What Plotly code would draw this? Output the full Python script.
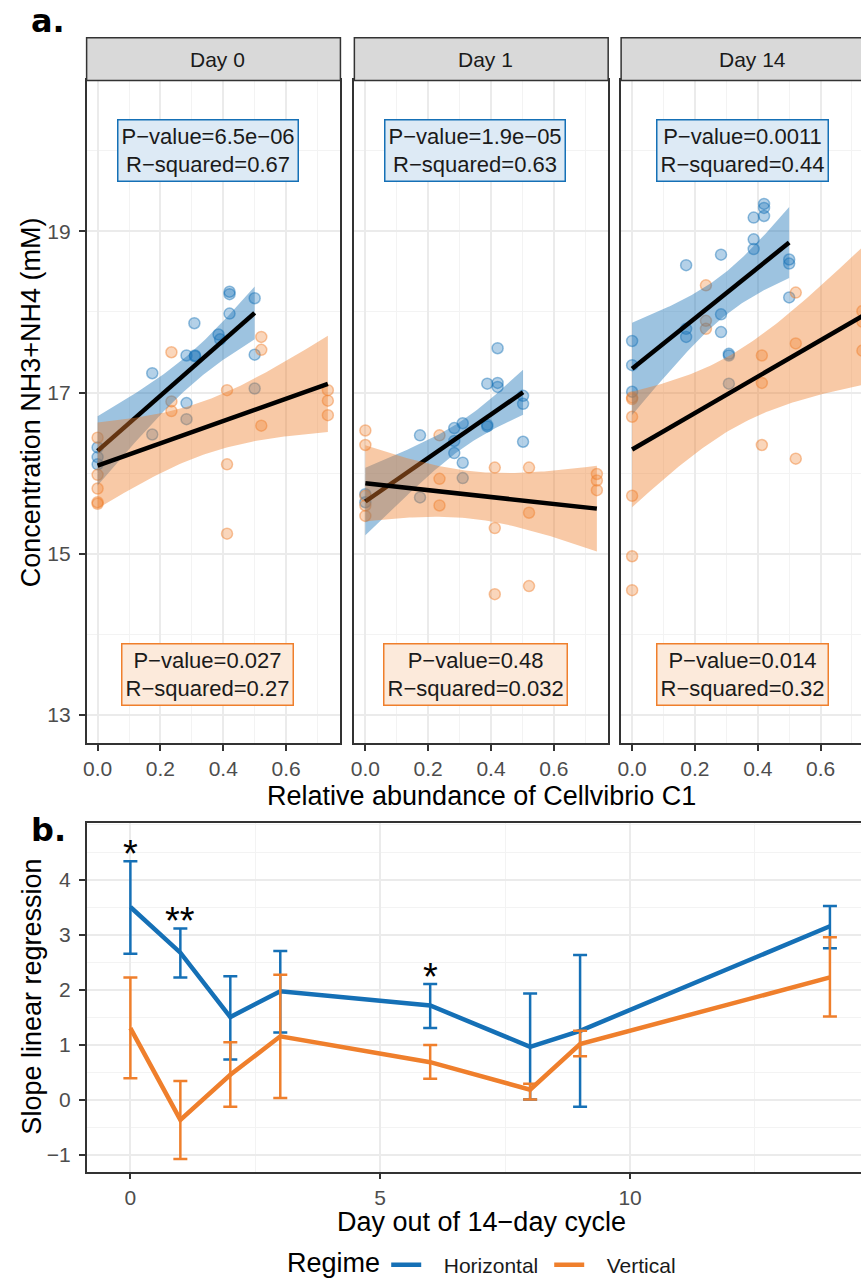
import numpy as np
import plotly.graph_objects as go

W, H = 861, 1286
BLUE = "#1570B6"
ORANGE = "#EF7F2C"
FONT = "Liberation Sans, Arial, sans-serif"

# ---------------- Panel a data ----------------
facet_days = ["Day 0", "Day 1", "Day 14"]

day0_h_x = [0.0, 0.0, 0.0, 0.174, 0.174, 0.283, 0.283, 0.283, 0.31, 0.31, 0.308, 0.385, 0.39, 0.42, 0.42, 0.42, 0.5, 0.5, 0.5]
day0_h_y = [16.32, 16.20, 16.11, 17.24, 16.48, 17.46, 16.87, 16.67, 17.46, 17.45, 17.86, 17.72, 17.66, 17.98, 18.22, 18.25, 18.17, 17.47, 17.05]
day0_v_x = [0.0, 0.0, 0.0, 0.0, 0.0, 0.235, 0.235, 0.235, 0.412, 0.412, 0.412, 0.521, 0.521, 0.521, 0.733, 0.733, 0.733]
day0_v_y = [16.44, 15.98, 15.81, 15.64, 15.62, 17.50, 16.89, 16.77, 17.03, 16.11, 15.25, 17.69, 17.53, 16.59, 17.03, 16.90, 16.72]

day1_h_x = [0.0, 0.0, 0.174, 0.174, 0.283, 0.283, 0.283, 0.31, 0.31, 0.31, 0.388, 0.388, 0.388, 0.421, 0.421, 0.421, 0.502, 0.502, 0.502]
day1_h_y = [15.74, 15.64, 16.47, 15.70, 16.56, 16.40, 16.25, 16.62, 16.13, 15.94, 17.11, 16.60, 16.58, 17.55, 17.12, 17.07, 16.96, 16.86, 16.39]
day1_v_x = [0.0, 0.0, 0.0, 0.0, 0.0, 0.236, 0.236, 0.236, 0.412, 0.412, 0.412, 0.521, 0.521, 0.521, 0.737, 0.737, 0.737]
day1_v_y = [16.53, 16.35, 15.72, 15.60, 15.47, 16.47, 15.93, 15.60, 16.07, 15.32, 14.50, 16.07, 15.51, 14.60, 15.99, 15.91, 15.79]

day14_h_x = [0.0, 0.0, 0.0, 0.172, 0.172, 0.172, 0.283, 0.283, 0.283, 0.308, 0.308, 0.308, 0.387, 0.387, 0.387, 0.42, 0.42, 0.42, 0.5, 0.5, 0.5]
day14_h_y = [17.64, 17.34, 17.01, 18.58, 17.79, 17.69, 18.71, 17.97, 17.75, 17.48, 17.46, 17.11, 19.17, 18.90, 18.78, 19.34, 19.29, 19.19, 18.65, 18.60, 18.18]
day14_v_x = [0.0, 0.0, 0.0, 0.0, 0.0, 0.0, 0.235, 0.235, 0.235, 0.413, 0.413, 0.413, 0.521, 0.521, 0.521, 0.733, 0.733, 0.733]
day14_v_y = [16.94, 16.92, 16.70, 15.72, 14.97, 14.55, 18.33, 17.89, 17.79, 17.46, 17.12, 16.35, 18.24, 17.61, 16.18, 18.01, 17.88, 17.52]

h_pvalue = ["6.5e−06", "1.9e−05", "0.0011"]
h_rsquared = ["0.67", "0.63", "0.44"]
v_pvalue = ["0.027", "0.48", "0.014"]
v_rsquared = ["0.27", "0.032", "0.32"]

# ---------------- Panel b data ----------------
regimes = ["Horizontal", "Vertical"]
slope_days = [0, 1, 2, 3, 6, 8, 9, 14]
h_slope = [3.50, 2.67, 1.50, 1.97, 1.71, 0.96, 1.25, 3.15]
h_upper = [4.33, 3.11, 2.24, 2.70, 2.10, 1.93, 2.63, 3.52]
h_lower = [2.65, 2.22, 0.73, 1.22, 1.30, 0.00, -0.13, 2.75]
v_slope = [1.30, -0.37, 0.45, 1.15, 0.68, 0.18, 1.01, 2.22]
v_upper = [2.22, 0.34, 1.04, 2.27, 0.99, 0.29, 1.25, 2.95]
v_lower = [0.39, -1.08, -0.13, 0.03, 0.38, 0.00, 0.79, 1.51]
significance = ["*", "**", "", "", "*", "", "", ""]


def rgba(hexc, a):
    hexc = hexc.lstrip("#")
    r, g, b = int(hexc[0:2], 16), int(hexc[2:4], 16), int(hexc[4:6], 16)
    return f"rgba({r},{g},{b},{a})"


def t_quantile(df, z=1.959963985):
    g1 = (z**3 + z) / 4
    g2 = (5 * z**5 + 16 * z**3 + 3 * z) / 96
    g3 = (3 * z**7 + 19 * z**5 + 17 * z**3 - 15 * z) / 384
    g4 = (79 * z**9 + 776 * z**7 + 1482 * z**5 - 1920 * z**3 - 945 * z) / 92160
    return z + g1 / df + g2 / df**2 + g3 / df**3 + g4 / df**4


def lm_band(x, y):
    x = np.asarray(x, float)
    y = np.asarray(y, float)
    n = len(x)
    xm, ym = x.mean(), y.mean()
    sxx = ((x - xm) ** 2).sum()
    b = ((x - xm) * (y - ym)).sum() / sxx
    a = ym - b * xm
    s = np.sqrt(((y - (a + b * x)) ** 2).sum() / (n - 2))
    xs = np.linspace(x.min(), x.max(), 80)
    fit = a + b * xs
    se = s * np.sqrt(1.0 / n + (xs - xm) ** 2 / sxx)
    t = t_quantile(n - 2)
    return xs, fit, fit - t * se, fit + t * se


fig = go.Figure()

panels = [
    (day0_h_x, day0_h_y, day0_v_x, day0_v_y),
    (day1_h_x, day1_h_y, day1_v_x, day1_v_y),
    (day14_h_x, day14_h_y, day14_v_x, day14_v_y),
]

for i, (hx, hy, vx, vy) in enumerate(panels):
    xa = "x" if i == 0 else f"x{i+1}"
    ya = "y" if i == 0 else f"y{i+1}"
    for px_, py_, col in [(hx, hy, BLUE), (vx, vy, ORANGE)]:
        fig.add_trace(go.Scatter(
            x=px_, y=py_, mode="markers", xaxis=xa, yaxis=ya, showlegend=False,
            marker=dict(size=11, color=rgba(col, 0.32), line=dict(color=rgba(col, 0.45), width=1.5)),
            hoverinfo="skip"))
    for px_, py_, col in [(hx, hy, BLUE), (vx, vy, ORANGE)]:
        xs, fit, lo, hi = lm_band(px_, py_)
        fig.add_trace(go.Scatter(
            x=np.concatenate([xs, xs[::-1]]), y=np.concatenate([hi, lo[::-1]]),
            mode="lines", fill="toself", fillcolor=rgba(col, 0.42), line=dict(width=0),
            xaxis=xa, yaxis=ya, showlegend=False, hoverinfo="skip"))
        fig.add_trace(go.Scatter(
            x=xs, y=fit, mode="lines", line=dict(color="black", width=4.5),
            xaxis=xa, yaxis=ya, showlegend=False, hoverinfo="skip"))

# Panel b
NBSP3 = "\u00a0\u00a0\u00a0"
for name, yv, up, lo, col in [(regimes[0], h_slope, h_upper, h_lower, BLUE),
                              (regimes[1], v_slope, v_upper, v_lower, ORANGE)]:
    yv_a = np.array(yv)
    fig.add_trace(go.Scatter(
        x=slope_days, y=yv, mode="lines", name=NBSP3 + name, xaxis="x4", yaxis="y4",
        line=dict(color=col, width=4.5),
        error_y=dict(type="data", symmetric=False,
                     array=list(np.array(up) - yv_a), arrayminus=list(yv_a - np.array(lo)),
                     color=col, thickness=2.5, width=7)))

# ---------------- layout ----------------
def xp(p):
    return p / W


def yp(p):
    return 1 - p / H


grid_major = "#EBEBEB"
grid_minor = "#F3F3F3"
axis_common = dict(
    showgrid=True, gridcolor=grid_major, gridwidth=1.6, zeroline=False,
    showline=True, linecolor="#333333", linewidth=1.5,
    ticks="outside", ticklen=6, tickwidth=1.5, tickcolor="#333333",
    tickfont=dict(family=FONT, size=21, color="#4D4D4D"),
)

PANEL_TOP, PANEL_BOT = 81, 748
a_yrange = [12.65, 20.87]
a_xrange = [-0.035, 0.773]

layout_axes = {}
dom = [(83, 338), (352, 607), (620, 861)]
for i in range(3):
    xk = "xaxis" if i == 0 else f"xaxis{i+1}"
    yk = "yaxis" if i == 0 else f"yaxis{i+1}"
    xr = a_xrange if i < 2 else [-0.035, -0.035 + (861 - 620) / (255 / (a_xrange[1] - a_xrange[0]))]
    layout_axes[xk] = dict(axis_common, domain=[xp(dom[i][0]), xp(dom[i][1])], range=xr,
                           tickvals=[0, 0.2, 0.4, 0.6], tickformat=".1f", mirror=True,
                           anchor="y" if i == 0 else f"y{i+1}",
                           minor=dict(tick0=0, dtick=0.1, showgrid=True, gridcolor=grid_minor, gridwidth=1))
    ycfg = dict(axis_common, domain=[yp(PANEL_BOT), yp(PANEL_TOP)], range=a_yrange,
                tickvals=[13, 15, 17, 19], mirror=(i < 2), ticklabelstandoff=4,
                anchor="x" if i == 0 else f"x{i+1}",
                minor=dict(tick0=13, dtick=1, showgrid=True, gridcolor=grid_minor, gridwidth=1))
    if i > 0:
        ycfg.update(showticklabels=False, ticks="")
    layout_axes[yk] = ycfg

b_xmin = -0.876
layout_axes["xaxis4"] = dict(axis_common, domain=[xp(83), 1], range=[b_xmin, b_xmin + 778 / 50.2],
                             tickvals=[0, 5, 10], mirror=True, anchor="y4",
                             minor=dict(tick0=0, dtick=2.5, showgrid=True, gridcolor=grid_minor, gridwidth=1))
layout_axes["yaxis4"] = dict(axis_common, domain=[yp(1179), yp(828)], range=[-1.31, 5.03],
                             tickvals=[-1, 0, 1, 2, 3, 4], anchor="x4", mirror=False,
                             ticklabelstandoff=4,
                             minor=dict(tick0=0, dtick=0.5, showgrid=True, gridcolor=grid_minor, gridwidth=1))

shapes = []
annotations = []
strip_bounds = [(83, 338), (352, 607), (620, 876)]
for i, (l, r) in enumerate(strip_bounds):
    shapes.append(dict(type="rect", xref="paper", yref="paper", x0=xp(l), x1=xp(r),
                       y0=yp(PANEL_TOP), y1=yp(38), fillcolor="#D9D9D9",
                       line=dict(color="#333333", width=1.5), layer="above"))
    annotations.append(dict(text=facet_days[i], xref="paper", yref="paper",
                            x=xp((l + r) / 2 + 4), y=yp(60), xanchor="center", yanchor="middle",
                            showarrow=False, font=dict(family=FONT, size=21, color="#1A1A1A")))

for i in range(3):
    xa = "x" if i == 0 else f"x{i+1}"
    ya = "y" if i == 0 else f"y{i+1}"
    annotations.append(dict(text=f"P−value={h_pvalue[i]}<br>R−squared={h_rsquared[i]}",
                            xref=xa, yref=ya, x=0.35, y=20.0, showarrow=False,
                            xanchor="center", yanchor="middle",
                            font=dict(family=FONT, size=22, color="#1A1A1A"),
                            bgcolor="#DDEAF5", bordercolor=BLUE, borderwidth=1.5, borderpad=3))
    annotations.append(dict(text=f"P−value={v_pvalue[i]}<br>R−squared={v_rsquared[i]}",
                            xref=xa, yref=ya, x=0.35, y=13.5, showarrow=False,
                            xanchor="center", yanchor="middle",
                            font=dict(family=FONT, size=22, color="#1A1A1A"),
                            bgcolor="#FCEADB", bordercolor=ORANGE, borderwidth=1.5, borderpad=3))

for d, s, up in zip(slope_days, significance, h_upper):
    if s:
        annotations.append(dict(text=s, xref="x4", yref="y4", x=d, y=up + 0.13,
                                xanchor="center", yanchor="middle",
                                showarrow=False, font=dict(family=FONT, size=38, color="black")))

TITLE = dict(family=FONT, size=27, color="black")
annotations += [
    dict(text="Concentration NH3+NH4 (mM)", xref="paper", yref="paper", x=xp(28), y=yp(405),
         xanchor="center", yanchor="middle", textangle=-90, showarrow=False, font=TITLE),
    dict(text="Relative abundance of Cellvibrio C1", xref="paper", yref="paper", x=xp(480), y=yp(801),
         xanchor="center", yanchor="middle", showarrow=False, font=TITLE),
    dict(text="Slope linear regression", xref="paper", yref="paper", x=xp(28), y=yp(1003),
         xanchor="center", yanchor="middle", textangle=-90, showarrow=False, font=TITLE),
    dict(text="Day out of 14−day cycle", xref="paper", yref="paper", x=xp(480), y=yp(1230),
         xanchor="center", yanchor="middle", showarrow=False, font=TITLE),
    dict(text="Regime", xref="paper", yref="paper", x=xp(282), y=yp(1271),
         xanchor="left", yanchor="middle", showarrow=False, font=TITLE),
    dict(text="<b>a.</b>", xref="paper", yref="paper", x=xp(25), y=yp(21), xanchor="left",
         yanchor="middle", showarrow=False, font=dict(family="DejaVu Sans", size=32, color="black")),
    dict(text="<b>b.</b>", xref="paper", yref="paper", x=xp(25), y=yp(835), xanchor="left",
         yanchor="middle", showarrow=False, font=dict(family="DejaVu Sans", size=32, color="black")),
]

fig.update_layout(
    width=W, height=H, margin=dict(l=0, r=0, t=0, b=0),
    paper_bgcolor="white", plot_bgcolor="white",
    font=dict(family=FONT),
    shapes=shapes, annotations=annotations,
    legend=dict(orientation="h", x=xp(384), xanchor="left", y=yp(1273), yanchor="middle",
                font=dict(family=FONT, size=21, color="#1A1A1A"), itemwidth=30, entrywidth=118),
    **layout_axes,
)

fig.write_html("out.html", config={"displayModeBar": False},
               post_script="document.body.style.margin='0';document.documentElement.style.overflow='hidden';")
